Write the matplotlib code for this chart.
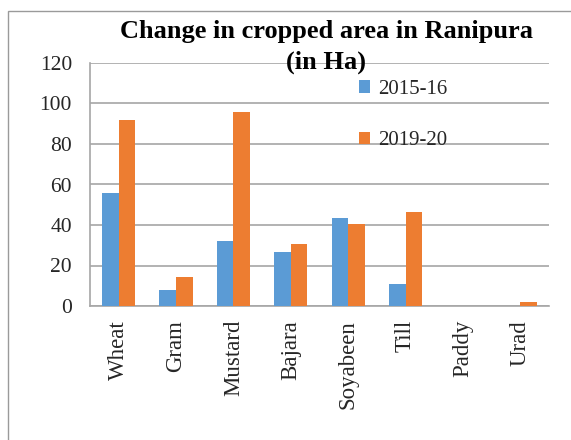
import matplotlib
matplotlib.use("Agg")
import matplotlib.pyplot as plt
import numpy as np
from matplotlib.patches import Rectangle

# crop names and area (Ha)
crops = ["Wheat", "Gram", "Mustard", "Bajara", "Soyabeen", "Till", "Paddy", "Urad"]
area_2015 = [56, 8, 32, 26.5, 43.5, 10.7, 0, 0]
area_2019 = [92, 14.5, 96, 30.7, 40.4, 46.6, 0, 1.8]
series_names = ["2015-16", "2019-20"]
yticks = [0, 20, 40, 60, 80, 100, 120]

plt.rcParams['font.family'] = ['Liberation Serif', 'DejaVu Serif']

W, H = 571, 440
fig = plt.figure(figsize=(W / 100, H / 100), dpi=100)

# outer chart frame (runs off right/bottom edge like the screenshot)
fig.patches.append(Rectangle((8 / W, -0.05), 1.0, 1 - 11 / H + 0.05,
                             transform=fig.transFigure, fill=False,
                             edgecolor='#9a9a9a', linewidth=1.0))

ax = fig.add_axes([90 / W, 1 - 306 / H, (549 - 90) / W, (306 - 63) / H])

x = np.arange(len(crops))
w = 0.29
ax.bar(x - w / 2, area_2015, width=w, color='#5B9BD5', label=series_names[0], zorder=3)
ax.bar(x + w / 2, area_2019, width=w, color='#ED7D31', label=series_names[1], zorder=3)

ax.set_xlim(-0.5, len(crops) - 0.5)
ax.set_ylim(0, 120)
ax.set_yticks(yticks)
ax.set_yticklabels([str(v) for v in yticks])
ax.set_xticks(x)
ax.set_xticklabels(crops, rotation=90, fontsize=16.5, color='#262626')
ax.tick_params(axis='y', length=0, pad=13, labelsize=15.5, labelcolor='#262626')
ax.tick_params(axis='x', length=0, pad=10)

ax.yaxis.grid(True, color='#a6a6a6', linewidth=1.2, zorder=0)
ax.set_axisbelow(True)
for s in ['top', 'right']:
    ax.spines[s].set_visible(False)
for s in ['left', 'bottom']:
    ax.spines[s].set_color('#a6a6a6')
    ax.spines[s].set_linewidth(1.2)

leg = ax.legend(loc='upper left', bbox_to_anchor=(359 / W, 1 - 80 / H),
                bbox_transform=fig.transFigure, frameon=False, fontsize=15,
                handlelength=0.55, handleheight=0.55, handletextpad=0.35,
                labelspacing=1.55, borderpad=0, borderaxespad=0)
for t in leg.get_texts():
    t.set_color('#262626')

fig.text(326 / W, 1 - 47 / H, "Change in cropped area in Ranipura\n(in Ha)",
         ha='center', va='center', fontsize=19, fontweight='bold',
         linespacing=1.4, color='black')

fig.savefig("out.png", dpi=100)
